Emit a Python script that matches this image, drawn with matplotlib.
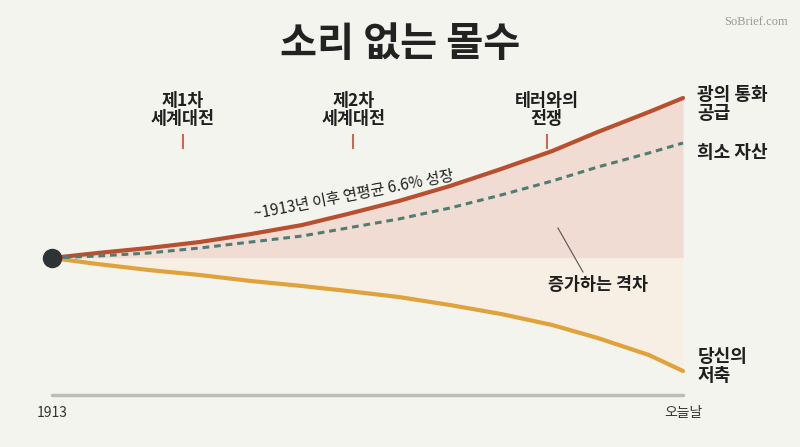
import matplotlib.pyplot as plt
import numpy as np

plt.rcParams["font.family"] = ["Noto Sans CJK KR", "DejaVu Sans"]

# Values (index relative to the 1913 level)
years = [1913, 1921, 1930, 1939, 1948, 1957, 1965, 1974, 1983, 1992, 2001,
         2009, 2018, 2024]
money_supply = [0, 5, 10, 16, 24, 33, 44, 57, 72, 89, 107, 126, 146, 160]
scarce_assets = [0, 2, 5, 10, 16, 22, 30, 39, 50, 63, 77, 91, 105, 115]
savings = [0, -6, -12, -17, -23, -28, -33, -39, -47, -56, -67, -80, -97, -113]

event_years = [1936, 1966, 2000]
event_labels = ["제1차\n세계대전", "제2차\n세계대전", "테러와의\n전쟁"]

end_labels = ["광의 통화\n공급", "희소 자산", "당신의\n저축"]
end_values = [154, 105, -108]

BG = "#f4f4ef"
RED = "#b8502f"
TEAL = "#4e7d74"
ORANGE = "#e0a23a"
INK = "#1f1f1f"

fig = plt.figure(figsize=(8, 4.47), dpi=100, facecolor=BG)
ax = fig.add_axes([0, 0, 1, 1])
ax.set_facecolor(BG)
ax.set_xlim(1903.85, 2044.58)
ax.set_ylim(-189, 258)
ax.axis("off")

x = np.array(years)

# shaded gap areas
ax.fill_between(x, money_supply, 0, color="#f0dcd2", lw=0, zorder=1)
ax.fill_between(x, savings, 0, color="#f8efe4", lw=0, zorder=1)

# curves
ax.plot(x, money_supply, color=RED, lw=3.0, solid_capstyle="round",
        solid_joinstyle="round", zorder=3)
ax.plot(x, scarce_assets, color=TEAL, lw=2.2, dashes=(2.2, 1.6), zorder=3)
ax.plot(x, savings, color=ORANGE, lw=3.0, solid_capstyle="round",
        solid_joinstyle="round", zorder=2)
ax.plot([years[0]], [0], "o", color="#2d3436", ms=13, zorder=5)

# time axis
ax.plot([years[0], years[-1]], [-137, -137], color="#bdbdb8", lw=2.5,
        solid_capstyle="round", zorder=1)
ax.text(years[0], -155, "1913", ha="center", va="center", fontsize=10,
        color="#333333")
ax.text(years[-1], -155, "오늘날", ha="center", va="center", fontsize=10,
        color="#333333")

# event markers
for ey, lab in zip(event_years, event_labels):
    ax.text(ey, 130, lab, ha="center", va="bottom", fontsize=12.5,
            fontweight="bold", color=INK, linespacing=1.0)
    ax.plot([ey, ey], [110, 123], color="#c96a50", lw=1.5)

# end labels
for lab, v in zip(end_labels, end_values):
    ax.text(2026.5, v, lab, ha="left", va="center", fontsize=13,
            fontweight="bold", color=INK, linespacing=1.0)

# growth note along the money line
ax.text(1966, 63, "~1913년 이후 연평균 6.6% 성장", ha="center", va="center",
        rotation=11, rotation_mode="anchor", fontsize=11, color=INK)

# growing gap label
ax.plot([2002.0, 2006.4], [30, -14], color="#555555", lw=0.8)
ax.text(2009, -27, "증가하는 격차", ha="center", va="center", fontsize=12.5,
        fontweight="bold", color=INK)

# title and watermark
ax.text(1974.2, 213, "소리 없는 몰수", ha="center", va="center", fontsize=29,
        fontweight="heavy", color="#222222")
ax.text(2042.5, 236, "SoBrief.com", ha="right", va="center", fontsize=9,
        family="Liberation Serif", color="#999999")

fig.savefig("out.png", dpi=100, facecolor=BG)
